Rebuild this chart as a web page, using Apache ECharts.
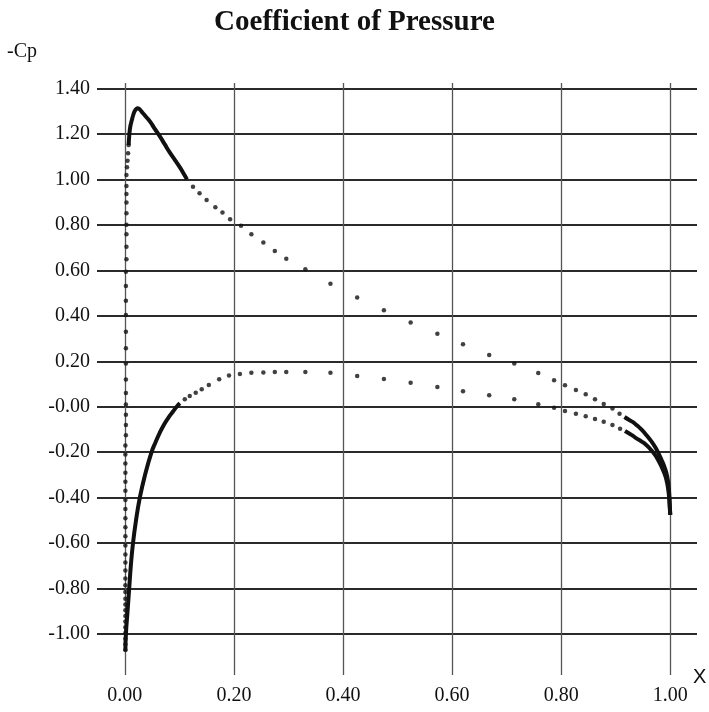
<!DOCTYPE html>
<html>
<head>
<meta charset="utf-8">
<script src="https://cdn.jsdelivr.net/npm/echarts@6/dist/echarts.min.js"></script>
<style>
html,body{margin:0;padding:0;background:#fff;}
#chart{width:709px;height:712px;}
</style>
</head>
<body>
<div id="chart"></div>
<script>
const titleText = 'Coefficient of Pressure';
const yName = '-Cp';
const xName = 'X';
const xTicks = [0, 0.2, 0.4, 0.6, 0.8, 1.0];
const xTickLabels = ['0.00', '0.20', '0.40', '0.60', '0.80', '1.00'];
const yTicks = [-1.0, -0.8, -0.6, -0.4, -0.2, 0, 0.2, 0.4, 0.6, 0.8, 1.0, 1.2, 1.4];
const yTickLabels = ['-1.00', '-0.80', '-0.60', '-0.40', '-0.20', '-0.00', '0.20', '0.40', '0.60', '0.80', '1.00', '1.20', '1.40'];

// upper surface, leading edge column of dots
const upperLeadingDots = [
  [0.001,-1.07],[0.001,-1.045],[0.001,-1.02],[0.001,-0.995],[0.001,-0.97],[0.001,-0.945],
  [0.001,-0.92],[0.001,-0.895],[0.001,-0.87],[0.001,-0.845],[0.001,-0.815],[0.001,-0.785],
  [0.001,-0.755],[0.001,-0.72],[0.001,-0.685],[0.001,-0.65],[0.001,-0.61],[0.001,-0.57],
  [0.001,-0.53],[0.001,-0.49],[0.001,-0.45],[0.001,-0.41],[0.001,-0.37],[0.001,-0.33],
  [0.001,-0.29],[0.001,-0.25],[0.001,-0.21],[0.001,-0.17],[0.002,-0.125],[0.002,-0.08],
  [0.002,-0.035],[0.002,0.01],[0.002,0.06],[0.002,0.12],[0.002,0.19],[0.002,0.257],
  [0.002,0.33],[0.002,0.403],[0.002,0.466],[0.002,0.531],[0.002,0.594],[0.003,0.649],
  [0.003,0.704],[0.003,0.759],[0.003,0.80],[0.003,0.851],[0.003,0.898],[0.003,0.936],
  [0.003,0.971],[0.003,1.019],[0.004,1.053],[0.005,1.082],[0.006,1.115],[0.007,1.151]
];
// upper surface, suction peak (dense points)
const upperPeakCurve = [
  [0.007,1.151],[0.008,1.188],[0.010,1.232],[0.013,1.262],[0.015,1.280],[0.018,1.300],
  [0.021,1.310],[0.024,1.313],[0.028,1.306],[0.033,1.292],[0.038,1.278],[0.046,1.255],
  [0.055,1.222],[0.064,1.190],[0.073,1.155],[0.082,1.120],[0.092,1.085],[0.101,1.053],
  [0.108,1.025],[0.114,1.000]
];
// upper surface, sparse dots
const upperMidDots = [
  [0.125,0.968],[0.137,0.939],[0.150,0.909],[0.166,0.877],[0.179,0.854],[0.193,0.825],
  [0.213,0.796],[0.232,0.759],[0.254,0.722],[0.275,0.685],[0.296,0.651],[0.331,0.605],
  [0.377,0.541],[0.426,0.481],[0.475,0.424],[0.524,0.371],[0.573,0.321],[0.620,0.275],
  [0.668,0.228],[0.714,0.190],[0.758,0.148],[0.787,0.116],[0.807,0.094],[0.827,0.074],
  [0.845,0.055],[0.862,0.033],[0.878,0.012],[0.894,-0.008],[0.907,-0.031]
];
// upper surface, trailing edge (dense points)
const upperTrailingCurve = [
  [0.916,-0.045],[0.924,-0.057],[0.931,-0.067],[0.938,-0.080],[0.947,-0.100],[0.956,-0.124],
  [0.964,-0.148],[0.972,-0.176],[0.978,-0.203],[0.984,-0.234],[0.989,-0.263],[0.993,-0.293],
  [0.996,-0.330],[0.998,-0.380],[0.999,-0.430],[1.000,-0.476]
];
// lower surface, leading edge (dense points)
const lowerLeadingCurve = [
  [0.001,-1.075],[0.002,-1.00],[0.005,-0.90],[0.008,-0.80],[0.011,-0.70],[0.015,-0.60],
  [0.0205,-0.50],[0.0275,-0.40],[0.037,-0.30],[0.049,-0.20],[0.056,-0.158],[0.064,-0.115],
  [0.072,-0.078],[0.080,-0.048],[0.088,-0.022],[0.095,0.000],[0.101,0.015]
];
// lower surface, sparse dots
const lowerMidDots = [
  [0.110,0.033],[0.119,0.047],[0.130,0.062],[0.141,0.077],[0.154,0.096],[0.173,0.121],
  [0.191,0.137],[0.211,0.144],[0.232,0.150],[0.254,0.151],[0.275,0.153],[0.296,0.153],
  [0.331,0.153],[0.377,0.150],[0.426,0.135],[0.475,0.122],[0.524,0.106],[0.573,0.087],
  [0.620,0.068],[0.668,0.050],[0.714,0.033],[0.758,0.011],[0.787,-0.004],[0.807,-0.019],
  [0.827,-0.031],[0.845,-0.042],[0.862,-0.054],[0.878,-0.066],[0.894,-0.080],[0.908,-0.097]
];
// lower surface, trailing edge (dense points)
const lowerTrailingCurve = [
  [0.917,-0.107],[0.924,-0.117],[0.931,-0.127],[0.938,-0.139],[0.947,-0.152],[0.956,-0.168],
  [0.964,-0.188],[0.972,-0.212],[0.978,-0.236],[0.984,-0.264],[0.989,-0.292],[0.993,-0.322],
  [0.996,-0.360],[0.998,-0.400],[0.999,-0.440],[1.000,-0.476]
];

const serif = '"Liberation Serif", "Times New Roman", serif';
const ink = '#111';

function dots(data) {
  return { type: 'scatter', data: data, symbol: 'circle', symbolSize: 4.5,
           itemStyle: { color: ink }, silent: true, z: 3 };
}
function curve(data) {
  return { type: 'line', data: data, showSymbol: false, smooth: true,
           lineStyle: { color: ink, width: 4 }, silent: true, z: 3 };
}

const chart = echarts.init(document.getElementById('chart'), null, { renderer: 'canvas' });
chart.setOption({
  backgroundColor: '#fff',
  animation: false,
  title: {
    text: titleText, left: 'center', top: 3,
    textStyle: { fontFamily: serif, fontWeight: 'bold', fontSize: 29, color: ink }
  },
  graphic: [
    { type: 'text', left: 7, top: 42, style: { text: yName, font: '20px ' + serif, fill: ink } },
    { type: 'text', left: 693, top: 667, style: { text: xName, font: '20px ' + '"Liberation Sans", Arial, sans-serif', fill: ink } }
  ],
  grid: { left: 97, right: 12, top: 83, bottom: 37 },
  xAxis: {
    type: 'value', min: -0.051, max: 1.049,
    axisLine: { show: false },
    axisTick: { show: false, customValues: xTicks },
    axisLabel: {
      customValues: xTicks, margin: 11,
      formatter: v => xTickLabels[xTicks.findIndex(t => Math.abs(t - v) < 1e-6)] || '',
      fontFamily: serif, fontSize: 20, color: ink
    },
    splitLine: { show: true, lineStyle: { color: '#555', width: 1.3 } }
  },
  yAxis: {
    type: 'value', min: -1.18, max: 1.424,
    axisLine: { show: false },
    axisTick: { show: false, customValues: yTicks },
    axisLabel: {
      customValues: yTicks, margin: 7,
      formatter: v => yTickLabels[yTicks.findIndex(t => Math.abs(t - v) < 1e-6)] || '',
      fontFamily: serif, fontSize: 20, color: ink
    },
    splitLine: { show: true, lineStyle: { color: '#2a2a2a', width: 1.8 } }
  },
  series: [
    dots(upperLeadingDots),
    curve(upperPeakCurve),
    dots(upperMidDots),
    curve(upperTrailingCurve),
    curve(lowerLeadingCurve),
    dots(lowerMidDots),
    curve(lowerTrailingCurve)
  ]
});
</script>
</body>
</html>
